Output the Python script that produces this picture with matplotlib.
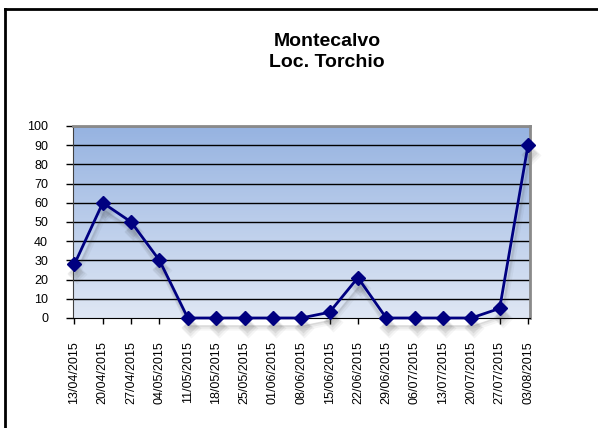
import numpy as np
import matplotlib
matplotlib.use("Agg")
import matplotlib.pyplot as plt
import matplotlib.transforms as mtransforms
from matplotlib.lines import Line2D
from matplotlib.colors import LinearSegmentedColormap

plt.rcParams['font.family'] = ['Liberation Sans', 'DejaVu Sans']

dates = ["13/04/2015", "20/04/2015", "27/04/2015", "04/05/2015", "11/05/2015",
         "18/05/2015", "25/05/2015", "01/06/2015", "08/06/2015", "15/06/2015",
         "22/06/2015", "29/06/2015", "06/07/2015", "13/07/2015", "20/07/2015",
         "27/07/2015", "03/08/2015"]
values = [28, 60, 50, 30, 0, 0, 0, 0, 0, 3, 21, 0, 0, 0, 0, 5, 90]
yticks = list(range(0, 101, 10))

fig = plt.figure(figsize=(5.98, 4.28), dpi=100)
ax = fig.add_axes([73/598, 1 - 318/428, (530-73)/598, (318-126)/428])

x = np.arange(len(values))
ax.set_xlim(-0.05, 16.07)
ax.set_ylim(0, 100)

# gradient background
cmap = LinearSegmentedColormap.from_list("bg", ["#dfe7f4", "#96b3e1"])
grad = np.linspace(0, 1, 256).reshape(-1, 1)
ax.imshow(grad, extent=[-0.05, 16.07, 0, 100], origin="lower", aspect="auto",
          cmap=cmap, zorder=0)

for yv in yticks[1:]:
    ax.axhline(yv, color="black", lw=1, zorder=1)

# soft shadow under the series
for dx, dy, a, w in [(3, -10, 0.05, 9), (2, -9, 0.07, 6), (2, -8, 0.09, 3)]:
    off = mtransforms.ScaledTranslation(dx/100, dy/100, fig.dpi_scale_trans)
    ax.plot(x, values, color="#404040", lw=w * 0.4, marker="D", ms=6 + w * 0.5,
            mec="none", alpha=a, transform=ax.transData + off, zorder=2,
            clip_on=False)

ax.plot(x, values, color="#000080", lw=2, marker="D", ms=7.2, mfc="#000080",
        mec="#000080", zorder=4, clip_on=False)

ax.set_xticks(x)
ax.set_xticklabels(dates, rotation=90, fontsize=9)
ax.set_yticks(yticks)
ax.set_yticklabels([str(v) for v in yticks], fontsize=9)
ax.tick_params(axis="x", direction="out", length=4, pad=13, width=1)
ax.tick_params(axis="y", direction="out", length=5, pad=13, width=1)

ax.spines["top"].set_color("#8a8a8a")
ax.spines["top"].set_linewidth(2)
ax.spines["right"].set_color("#8a8a8a")
ax.spines["right"].set_linewidth(2)
ax.spines["left"].set_color("#404040")
ax.spines["bottom"].set_color("black")

fig.text(327/598, 1 - 52/428, "Montecalvo\nLoc. Torchio", ha="center", va="center",
         fontsize=14, fontweight="bold", linespacing=1.25)

# outer chart border (continues beyond right and bottom edges)
fig.add_artist(Line2D([5/598, 5/598], [1 - 9/428, -0.1], transform=fig.transFigure,
                      color="black", lw=2))
fig.add_artist(Line2D([5/598, 1.1], [1 - 9/428, 1 - 9/428], transform=fig.transFigure,
                      color="black", lw=2))

fig.savefig("out.png", dpi=100)
